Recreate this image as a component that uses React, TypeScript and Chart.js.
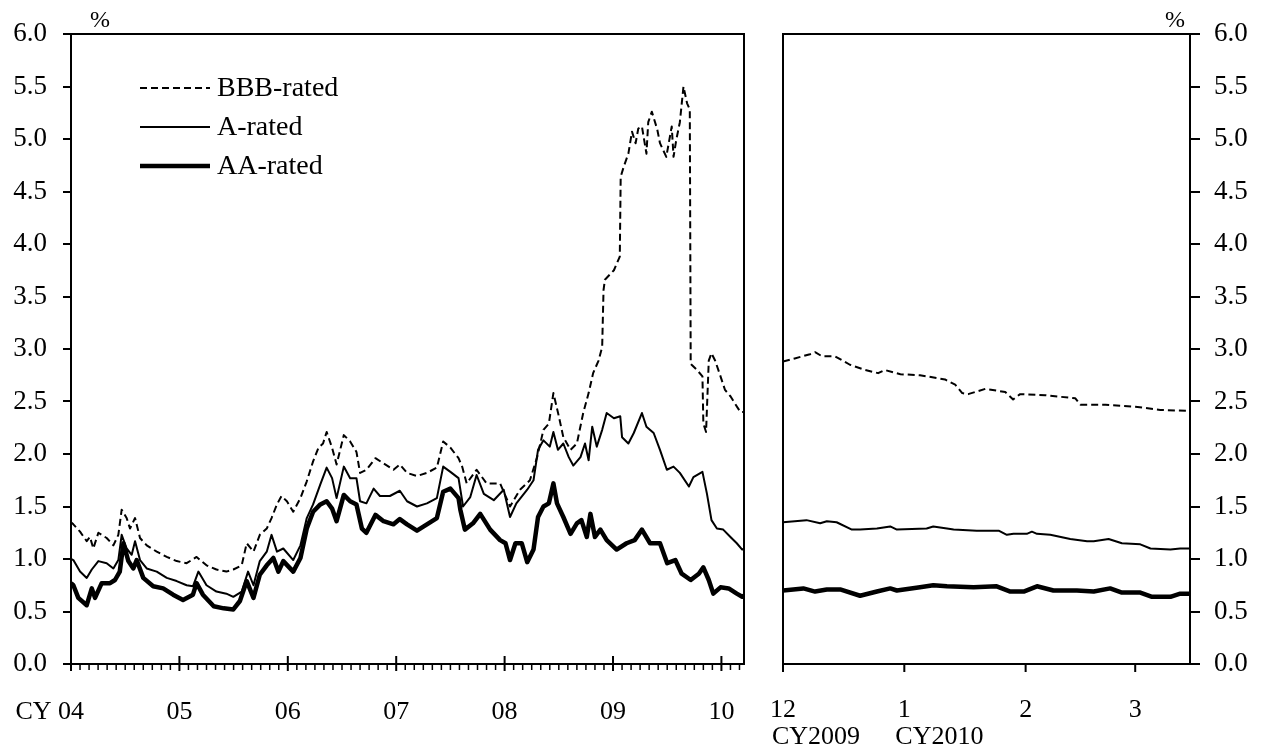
import React, { useEffect, useRef } from 'react';
import { Chart, registerables } from 'chart.js';

Chart.register(...registerables);

const FONT = '"Liberation Serif", "Times New Roman", Times, serif';

// ---- tick labels / categories ----
const yearPrefix = 'CY ';
const yearLabels = ['04', '05', '06', '07', '08', '09', '10'];
const zoomMonthLabels = ['12', '1', '2', '3'];
const zoomMonthTickDays = [0, 31, 62, 90];
const zoomYearLabels = ['CY2009', 'CY2010'];
const seriesNames = ['BBB-rated', 'A-rated', 'AA-rated'];

// ---- left panel: [months since Jan 2004, %] ----
const bbbLeft: [number, number][] = [
  [0, 1.35], [0.26, 1.33], [1.0, 1.26], [1.74, 1.17], [2.1, 1.21], [2.47, 1.10], [3.03, 1.25], [3.95, 1.20], [4.69, 1.13], [5.24, 1.23],
  [5.61, 1.47], [6.16, 1.39], [6.53, 1.29], [7.09, 1.39], [7.64, 1.20], [8.38, 1.13], [9.49, 1.07], [10.6, 1.02], [11.7, 0.98], [12.8, 0.96],
  [13.9, 1.02], [15.0, 0.94], [16.1, 0.90], [17.2, 0.88], [17.97, 0.90], [18.9, 0.94], [19.45, 1.15], [20.2, 1.07], [20.9, 1.23], [21.67, 1.29],
  [22.2, 1.39], [22.8, 1.52], [23.3, 1.60], [23.9, 1.55], [24.6, 1.45], [25.4, 1.58], [26.1, 1.74], [26.8, 1.93], [27.4, 2.06], [27.9, 2.10],
  [28.3, 2.21], [28.9, 2.06], [29.4, 1.90], [30.2, 2.18], [30.9, 2.12], [31.6, 2.02], [32.0, 1.82], [32.7, 1.85], [33.7, 1.96], [34.6, 1.91],
  [35.7, 1.85], [36.4, 1.90], [37.2, 1.82], [38.3, 1.79], [39.4, 1.82], [40.5, 1.87], [41.2, 2.12], [42.0, 2.06], [42.9, 1.96], [43.3, 1.88],
  [43.8, 1.72], [44.9, 1.85], [46.0, 1.72], [47.5, 1.72], [48.6, 1.50], [49.7, 1.66], [50.8, 1.75], [51.6, 1.97], [52.3, 2.23], [52.9, 2.29],
  [53.4, 2.58], [54.0, 2.36], [54.5, 2.16], [55.3, 2.04], [56.0, 2.10], [56.7, 2.39], [57.3, 2.58], [57.8, 2.77], [58.4, 2.89], [58.8, 3.02],
  [58.95, 3.56], [59.1, 3.66], [60.1, 3.75], [60.75, 3.88], [60.85, 4.64], [61.2, 4.74], [61.7, 4.86], [62.1, 5.07], [62.5, 4.96], [62.8, 5.10],
  [63.2, 5.12], [63.7, 4.86], [63.9, 5.16], [64.3, 5.26], [64.9, 5.09], [65.2, 4.96], [65.9, 4.83], [66.5, 5.12], [66.7, 4.83], [67.0, 4.99],
  [67.4, 5.16], [67.8, 5.50], [68.2, 5.34], [68.5, 5.28], [68.6, 2.86], [68.7, 2.85], [69.3, 2.80], [69.9, 2.74], [70.0, 2.29], [70.3, 2.21],
  [70.6, 2.89], [70.9, 2.96], [71.3, 2.89], [71.9, 2.74], [72.4, 2.61], [73.0, 2.55], [73.5, 2.48], [74.1, 2.40], [74.5, 2.40],
];

const aLeft: [number, number][] = [
  [0, 1.0], [0.26, 0.99], [1.0, 0.88], [1.74, 0.82], [2.3, 0.90], [3.03, 0.98], [3.95, 0.96], [4.69, 0.91], [5.24, 0.99], [5.61, 1.23],
  [6.16, 1.10], [6.72, 1.04], [7.09, 1.17], [7.64, 0.99], [8.38, 0.91], [9.49, 0.88], [10.6, 0.82], [11.7, 0.79], [12.8, 0.75], [13.5, 0.74],
  [14.1, 0.88], [15.0, 0.75], [16.1, 0.69], [17.2, 0.67], [17.97, 0.64], [18.9, 0.69], [19.6, 0.88], [20.2, 0.75], [20.9, 0.98], [21.67, 1.07],
  [22.2, 1.23], [22.8, 1.07], [23.5, 1.10], [24.6, 0.99], [25.4, 1.13], [26.1, 1.39], [26.8, 1.52], [27.6, 1.71], [28.3, 1.87], [28.9, 1.77],
  [29.4, 1.58], [30.2, 1.88], [30.9, 1.77], [31.6, 1.77], [32.0, 1.55], [32.7, 1.53], [33.5, 1.67], [34.2, 1.60], [35.3, 1.60], [36.4, 1.65],
  [37.2, 1.55], [38.3, 1.50], [39.4, 1.53], [40.5, 1.58], [41.2, 1.88], [42.0, 1.83], [42.9, 1.77], [43.4, 1.50], [44.2, 1.59], [44.9, 1.80],
  [45.7, 1.62], [46.8, 1.56], [47.9, 1.66], [48.6, 1.40], [49.3, 1.53], [50.5, 1.66], [51.2, 1.75], [51.7, 2.04], [52.3, 2.13], [53.0, 2.07],
  [53.4, 2.21], [53.9, 2.04], [54.5, 2.10], [55.1, 1.97], [55.6, 1.89], [56.4, 1.97], [56.9, 2.10], [57.3, 1.94], [57.7, 2.26], [58.2, 2.07],
  [58.8, 2.23], [59.3, 2.39], [60.1, 2.34], [60.8, 2.36], [61.0, 2.16], [61.7, 2.10], [62.3, 2.20], [63.2, 2.39], [63.7, 2.26], [64.5, 2.20],
  [65.2, 2.04], [65.96, 1.85], [66.7, 1.88], [67.4, 1.82], [68.4, 1.69], [68.9, 1.78], [69.9, 1.83], [70.4, 1.62], [70.9, 1.37], [71.5, 1.29],
  [72.2, 1.28], [73.0, 1.21], [73.7, 1.15], [74.3, 1.09], [74.5, 1.10],
];

const aaLeft: [number, number][] = [
  [0, 0.77], [0.26, 0.75], [0.81, 0.63], [1.74, 0.56], [2.3, 0.72], [2.66, 0.63], [3.4, 0.77], [4.32, 0.77], [4.87, 0.80], [5.4, 0.88],
  [5.8, 1.15], [6.35, 0.98], [6.9, 0.91], [7.27, 0.99], [8.0, 0.82], [9.1, 0.74], [10.2, 0.72], [11.3, 0.66], [12.4, 0.61], [13.5, 0.66],
  [13.9, 0.77], [14.6, 0.66], [15.8, 0.55], [16.9, 0.53], [17.97, 0.52], [18.7, 0.60], [19.45, 0.79], [20.2, 0.63], [20.9, 0.85], [21.67, 0.94],
  [22.4, 1.01], [22.96, 0.88], [23.5, 0.98], [24.6, 0.88], [25.4, 1.01], [26.1, 1.29], [26.8, 1.45], [27.6, 1.52], [28.3, 1.55], [28.9, 1.48],
  [29.4, 1.36], [30.2, 1.61], [30.9, 1.55], [31.6, 1.52], [32.2, 1.29], [32.7, 1.25], [33.7, 1.42], [34.6, 1.36], [35.7, 1.33], [36.4, 1.38],
  [37.2, 1.33], [38.3, 1.27], [39.4, 1.33], [40.5, 1.39], [41.2, 1.64], [42.0, 1.67], [42.9, 1.58], [43.1, 1.47], [43.6, 1.28], [44.5, 1.34],
  [45.3, 1.43], [46.4, 1.28], [47.5, 1.18], [48.1, 1.15], [48.6, 0.99], [49.2, 1.15], [49.9, 1.15], [50.5, 0.97], [51.2, 1.09], [51.7, 1.40],
  [52.3, 1.50], [52.9, 1.53], [53.4, 1.72], [53.8, 1.53], [54.5, 1.40], [55.3, 1.24], [56.0, 1.34], [56.5, 1.37], [57.1, 1.21], [57.5, 1.43],
  [58.0, 1.21], [58.6, 1.28], [59.3, 1.18], [60.4, 1.09], [61.5, 1.15], [62.4, 1.18], [63.2, 1.28], [64.1, 1.15], [65.2, 1.15], [66.0, 0.96],
  [66.9, 0.99], [67.6, 0.86], [68.6, 0.80], [69.5, 0.86], [70.0, 0.92], [70.6, 0.80], [71.1, 0.67], [71.9, 0.73], [72.8, 0.72], [73.7, 0.67],
  [74.3, 0.64], [74.5, 0.65],
];

// ---- right panel: [days since 1 Dec 2009, %] ----
const bbbRight: [number, number][] = [
  [0, 2.88], [3, 2.91], [6.9, 2.95], [8.2, 2.97], [10, 2.93], [13.3, 2.93], [17.1, 2.85], [21, 2.80], [24.3, 2.77], [26, 2.80],
  [30, 2.76], [35, 2.75], [41.4, 2.71], [44, 2.66], [45.8, 2.58], [47.3, 2.57], [51.7, 2.62], [56.8, 2.59], [58.8, 2.52], [60.6, 2.57],
  [67, 2.56], [74.7, 2.53], [76, 2.47], [82.4, 2.47], [90, 2.45], [96.4, 2.42], [104, 2.41],
];

const aRight: [number, number][] = [
  [0, 1.35], [6, 1.37], [9.5, 1.34], [11.2, 1.36], [13.7, 1.35], [17.6, 1.28], [19.7, 1.28], [24, 1.29], [27.4, 1.31], [29.1, 1.28],
  [36.7, 1.29], [38.4, 1.31], [41.9, 1.29], [43.6, 1.28], [49.5, 1.27], [55.1, 1.27], [57.2, 1.23], [58.9, 1.24], [62.3, 1.24], [63.6, 1.26],
  [64.9, 1.24], [68.3, 1.23], [73.4, 1.19], [77.7, 1.17], [79.4, 1.17], [83.2, 1.19], [86.6, 1.15], [91.3, 1.14], [93.9, 1.10], [99, 1.09],
  [101.5, 1.10], [104, 1.10],
];

const aaRight: [number, number][] = [
  [0, 0.70], [5.2, 0.72], [8.2, 0.69], [11.2, 0.71], [14.6, 0.71], [19.7, 0.65], [24, 0.69], [27.4, 0.72], [29.1, 0.70], [35, 0.73],
  [38.4, 0.75], [41.9, 0.74], [48.7, 0.73], [54.6, 0.74], [58.1, 0.69], [61.5, 0.69], [64.9, 0.74], [69.1, 0.70], [75.1, 0.70], [79.4, 0.69],
  [83.6, 0.72], [86.6, 0.68], [91.3, 0.68], [94.3, 0.64], [99, 0.64], [101.5, 0.67], [104, 0.67],
];

const seriesStyles = [
  { borderWidth: 2, borderDash: [7, 4] },
  { borderWidth: 2, borderDash: [] as number[] },
  { borderWidth: 4.5, borderDash: [] as number[] },
];

function makeDatasets(series: [number, number][][]) {
  return series.map((pts, i) => ({
    label: seriesNames[i],
    data: pts.map(([x, y]) => ({ x, y })),
    borderColor: '#000',
    backgroundColor: '#000',
    borderWidth: seriesStyles[i].borderWidth,
    borderDash: seriesStyles[i].borderDash,
    borderJoinStyle: 'round' as const,
    pointRadius: 0,
    tension: 0,
    fill: false,
  }));
}

function yScale(position: 'left' | 'right', width: number, tickLength: number, padding: number) {
  return {
    position,
    min: 0,
    max: 6,
    ticks: {
      stepSize: 0.5,
      callback: (v: any) => Number(v).toFixed(1),
      color: '#000',
      font: { family: FONT, size: 27 },
      padding,
    },
    grid: { drawOnChartArea: false, drawTicks: true, tickLength, color: '#000', lineWidth: 2 },
    border: { display: true, color: '#000', width: 2 },
    afterFit: (s: any) => { s.width = width; },
  };
}

const leftDecor = {
  id: 'leftDecor',
  afterDraw(chart: any) {
    const { ctx, chartArea: a, scales } = chart;
    const x = scales.x;
    ctx.save();
    ctx.strokeStyle = '#000';
    ctx.setLineDash([]);
    ctx.lineWidth = 2;
    ctx.strokeRect(a.left, a.top, a.right - a.left, a.bottom - a.top);
    // monthly minor ticks
    ctx.lineWidth = 1.5;
    ctx.beginPath();
    for (let m = 1; m <= 74; m++) {
      if (m % 12 === 0) continue;
      const px = x.getPixelForValue(m);
      ctx.moveTo(px, a.bottom);
      ctx.lineTo(px, a.bottom + 6);
    }
    ctx.stroke();
    // yearly major ticks
    ctx.lineWidth = 2;
    ctx.beginPath();
    yearLabels.forEach((_, i) => {
      const px = x.getPixelForValue(i * 12);
      ctx.moveTo(px, a.bottom - 8);
      ctx.lineTo(px, a.bottom + 7);
    });
    ctx.stroke();
    // labels
    ctx.fillStyle = '#000';
    ctx.font = `26px ${FONT}`;
    ctx.textBaseline = 'middle';
    yearLabels.forEach((lab, i) => {
      const px = x.getPixelForValue(i * 12);
      if (i === 0) {
        const w = ctx.measureText(lab).width;
        ctx.textAlign = 'right';
        ctx.fillText(yearPrefix + lab, px + w / 2, 712);
      } else {
        ctx.textAlign = 'center';
        ctx.fillText(lab, px, 712);
      }
    });
    ctx.textAlign = 'center';
    ctx.font = `24px ${FONT}`;
    ctx.fillText('%', 100, 21);
    // legend
    const rows = [88, 127, 166];
    chart.data.datasets.forEach((ds: any, i: number) => {
      ctx.lineWidth = ds.borderWidth;
      ctx.setLineDash(ds.borderDash || []);
      ctx.lineCap = 'butt';
      ctx.beginPath();
      ctx.moveTo(140, rows[i]);
      ctx.lineTo(210, rows[i]);
      ctx.stroke();
      ctx.setLineDash([]);
      ctx.font = `28px ${FONT}`;
      ctx.textAlign = 'left';
      ctx.fillText(ds.label, 217, rows[i] + 1);
    });
    ctx.restore();
  },
};

const rightDecor = {
  id: 'rightDecor',
  afterDraw(chart: any) {
    const { ctx, chartArea: a, scales } = chart;
    const x = scales.x;
    ctx.save();
    ctx.strokeStyle = '#000';
    ctx.setLineDash([]);
    ctx.lineWidth = 2;
    ctx.strokeRect(a.left, a.top, a.right - a.left, a.bottom - a.top);
    ctx.beginPath();
    zoomMonthTickDays.forEach((d) => {
      const px = x.getPixelForValue(d);
      ctx.moveTo(px, a.bottom);
      ctx.lineTo(px, a.bottom + 8);
    });
    ctx.stroke();
    ctx.fillStyle = '#000';
    ctx.font = `26px ${FONT}`;
    ctx.textBaseline = 'middle';
    ctx.textAlign = 'center';
    zoomMonthLabels.forEach((lab, i) => {
      ctx.fillText(lab, x.getPixelForValue(zoomMonthTickDays[i]), 710);
    });
    ctx.textAlign = 'left';
    ctx.fillText(zoomYearLabels[0], x.getPixelForValue(zoomMonthTickDays[0]) - 11, 737);
    ctx.fillText(zoomYearLabels[1], x.getPixelForValue(zoomMonthTickDays[1]) - 9, 737);
    ctx.textAlign = 'center';
    ctx.font = `24px ${FONT}`;
    ctx.fillText('%', 415, 21);
    ctx.restore();
  },
};

export default function App() {
  const leftRef = useRef<HTMLCanvasElement | null>(null);
  const rightRef = useRef<HTMLCanvasElement | null>(null);

  useEffect(() => {
    const left = new Chart(leftRef.current as HTMLCanvasElement, {
      type: 'line',
      data: { datasets: makeDatasets([bbbLeft, aLeft, aaLeft]) as any },
      options: {
        animation: false,
        responsive: false,
        devicePixelRatio: 1,
        layout: { padding: { top: 34, right: 16, left: 0, bottom: 0 } },
        plugins: { legend: { display: false }, tooltip: { enabled: false } },
        scales: {
          x: {
            type: 'linear',
            min: 0,
            max: 74.5,
            grid: { display: false },
            ticks: { display: false },
            border: { display: true, color: '#000', width: 2 },
            afterFit: (s: any) => { s.height = 90; },
          },
          y: yScale('left', 71, 8, 16),
        } as any,
      },
      plugins: [leftDecor],
    });
    const right = new Chart(rightRef.current as HTMLCanvasElement, {
      type: 'line',
      data: { datasets: makeDatasets([bbbRight, aRight, aaRight]) as any },
      options: {
        animation: false,
        responsive: false,
        devicePixelRatio: 1,
        layout: { padding: { top: 34, right: 0, left: 23, bottom: 0 } },
        plugins: { legend: { display: false }, tooltip: { enabled: false } },
        scales: {
          x: {
            type: 'linear',
            min: 0,
            max: 104,
            grid: { display: false },
            ticks: { display: false },
            border: { display: true, color: '#000', width: 2 },
            afterFit: (s: any) => { s.height = 90; },
          },
          y: yScale('right', 73, 10, 14),
        } as any,
      },
      plugins: [rightDecor],
    });
    return () => {
      left.destroy();
      right.destroy();
    };
  }, []);

  return (
    <div style={{ position: 'fixed', left: 0, top: 0, width: 1263, height: 754, background: '#fff' }}>
      <canvas ref={leftRef} width={760} height={754} style={{ position: 'absolute', left: 0, top: 0 }} />
      <canvas ref={rightRef} width={503} height={754} style={{ position: 'absolute', left: 760, top: 0 }} />
    </div>
  );
}
